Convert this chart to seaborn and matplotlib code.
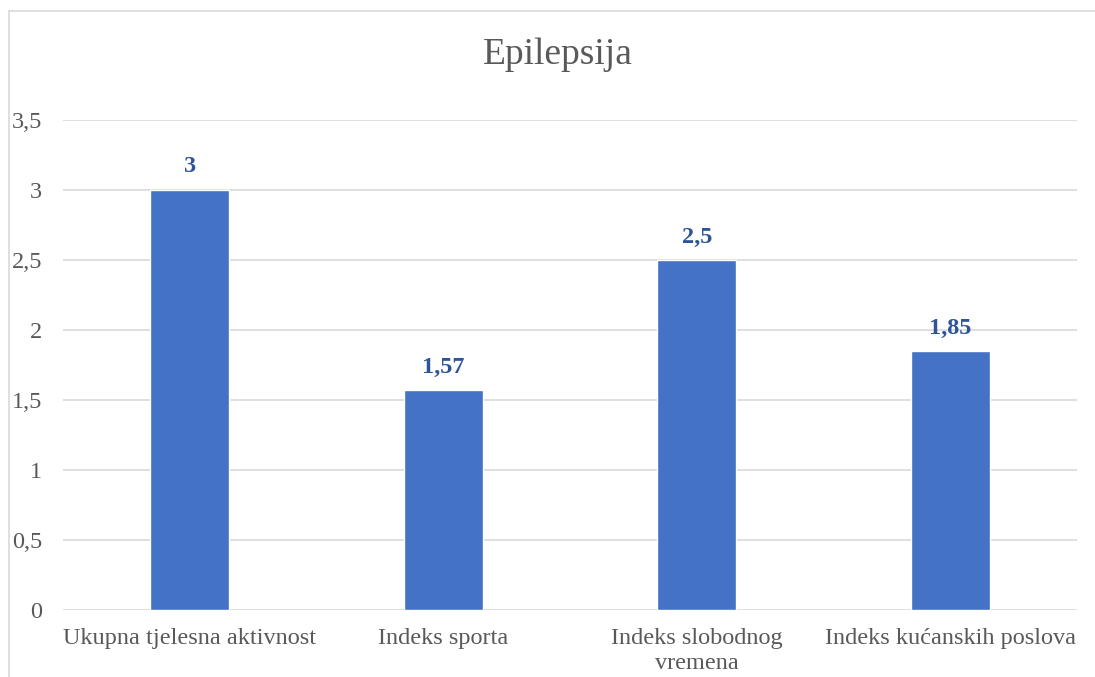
import matplotlib
matplotlib.use("Agg")
import matplotlib.pyplot as plt
import seaborn as sns
import pandas as pd
from matplotlib.lines import Line2D

# podaci
categories = ["Ukupna tjelesna aktivnost", "Indeks sporta", "Indeks slobodnog\nvremena", "Indeks kućanskih poslova"]
values = [3, 1.57, 2.5, 1.85]
value_labels = ["3", "1,57", "2,5", "1,85"]
y_ticks = [0, 0.5, 1, 1.5, 2, 2.5, 3, 3.5]
y_tick_labels = ["0", "0,5", "1", "1,5", "2", "2,5", "3", "3,5"]

sns.set_style("white")
plt.rcParams['font.family'] = ['Liberation Serif', 'DejaVu Serif']

df = pd.DataFrame({'kategorija': categories, 'vrijednost': values})

fig = plt.figure(figsize=(10.95, 6.77), dpi=100)
ax = fig.add_axes([63 / 1095, 67 / 677, 1014 / 1095, 490 / 677])

sns.barplot(data=df, x='kategorija', y='vrijednost', color='#4472C4',
            width=0.31, saturation=1, ax=ax)

ax.set_ylim(0, 3.5)
ax.set_yticks(y_ticks)
ax.set_yticklabels(y_tick_labels)
ax.yaxis.grid(True, color='#D9D9D9', linewidth=1.2)
ax.set_axisbelow(True)
for s in ax.spines.values():
    s.set_visible(False)
ax.tick_params(axis='both', length=0, labelsize=17.5, colors='#595959')
ax.tick_params(axis='y', pad=15)
ax.tick_params(axis='x', pad=13)
for t in ax.get_xticklabels():
    t.set_linespacing(1.25)
ax.set_xlabel('')
ax.set_ylabel('')

for i, (v, lab) in enumerate(zip(values, value_labels)):
    ax.annotate(lab, (i, v), xytext=(0, 9), textcoords='offset points',
                ha='center', va='bottom', fontsize=17.5, fontweight='bold', color='#2F5597')

fig.text(558 / 1095, 1 - 55 / 677, 'Epilepsija', ha='center', va='center',
         fontsize=27, color='#595959')

# okvir grafikona
fig.add_artist(Line2D([9 / 1095, 9 / 1095], [0, 1 - 11 / 677], color='#D9D9D9', lw=1.2,
                      transform=fig.transFigure))
fig.add_artist(Line2D([9 / 1095, 1], [1 - 11 / 677, 1 - 11 / 677], color='#D9D9D9', lw=1.2,
                      transform=fig.transFigure))

fig.savefig('out.png', dpi=100)
